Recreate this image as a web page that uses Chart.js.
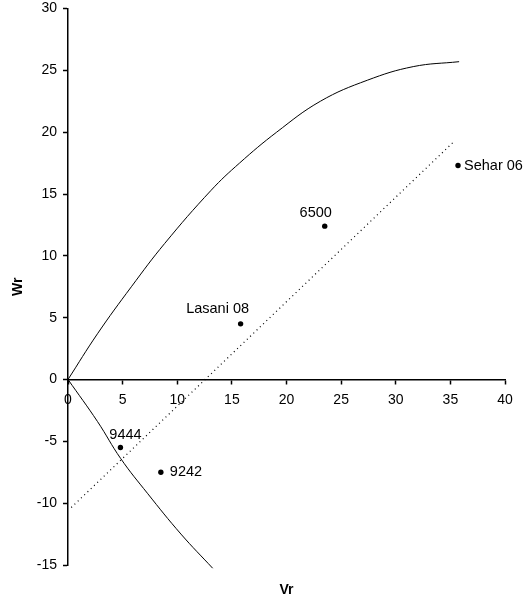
<!DOCTYPE html>
<html>
<head>
<meta charset="utf-8">
<script src="https://cdn.jsdelivr.net/npm/chart.js@4.4.0/dist/chart.umd.min.js"></script>
<style>
  html, body { margin: 0; padding: 0; background: #fff; }
  #wrap { width: 525px; height: 604px; }
</style>
</head>
<body>
<div id="wrap"><canvas id="myChart" width="525" height="604"></canvas></div>
<script>
// genotype points (Vr, Wr)
var genotypes = ["Sehar 06", "6500", "Lasani 08", "9444", "9242"];
var vr = [35.7, 23.5, 15.8, 4.8, 8.5];
var wr = [17.3, 12.4, 4.5, -5.5, -7.5];

// limiting parabola
var upperVr = [0, 2.7, 5.8, 8.85, 13.1, 15.7, 19.1, 23.1, 27.4, 31.6, 35.8];
var upperWr = [0, 3.7, 7.5, 11.0, 15.3, 17.5, 20.0, 22.5, 24.2, 25.3, 25.7];
var lowerVr = [0, 2.7, 4.83, 7.27, 10.34, 13.24];
var lowerWr = [0, -3.4, -6.4, -9.2, -12.5, -15.26];

// regression line ends
var regVr = [0.3, 35.4];
var regWr = [-10.35, 19.3];

var xTicks = [0, 5, 10, 15, 20, 25, 30, 35, 40];
var yTicks = [-15, -10, -5, 0, 5, 10, 15, 20, 25, 30];

function pts(xs, ys) {
	return xs.map(function (x, i) { return { x: x, y: ys[i] }; });
}

var FONT = '"Liberation Sans", Arial, sans-serif';
Chart.defaults.font.family = FONT;
Chart.defaults.font.size = 14;
Chart.defaults.color = "#000";

var pointLabels = {
	id: "pointLabels",
	afterDatasetsDraw: function (chart, args, opts) {
		var meta = chart.getDatasetMeta(3);
		var ctx = chart.ctx;
		ctx.save();
		ctx.font = "14.5px " + FONT;
		ctx.fillStyle = "#000";
		ctx.textBaseline = "middle";
		meta.data.forEach(function (pt, i) {
			var o = opts.offsets[i];
			ctx.textAlign = o[2];
			ctx.fillText(genotypes[i], pt.x + o[0], pt.y + o[1]);
		});
		ctx.restore();
	},
};

var ctx = document.getElementById("myChart").getContext("2d");
var myChart = new Chart(ctx, {
	type: "scatter",
	data: {
		datasets: [
			{
				data: pts(upperVr, upperWr),
				showLine: true,
				tension: 0.4,
				borderColor: "#000",
				borderWidth: 1,
				pointRadius: 0,
			},
			{
				data: pts(lowerVr, lowerWr),
				showLine: true,
				tension: 0.4,
				borderColor: "#000",
				borderWidth: 1,
				pointRadius: 0,
				clip: false,
			},
			{
				data: pts(regVr, regWr),
				showLine: true,
				borderColor: "#000",
				borderWidth: 1.2,
				borderDash: [1, 3.5],
				pointRadius: 0,
			},
			{
				data: pts(vr, wr),
				pointRadius: 2.7,
				backgroundColor: "#000",
				borderColor: "#000",
				borderWidth: 0,
			},
		],
	},
	options: {
		responsive: false,
		animation: false,
		layout: { padding: { top: 0, right: 20, left: 0, bottom: 0 } },
		plugins: {
			legend: { display: false },
			tooltip: { enabled: false },
			title: {
				display: true,
				text: "Vr",
				position: "bottom",
				fullSize: false,
				font: { size: 14, weight: "bold" },
				padding: { top: 16.5, bottom: 5.7 },
			},
			pointLabels: {
				offsets: [
					[6, 0, "left"],
					[-9, -13, "center"],
					[-23, -15, "center"],
					[5, -13, "center"],
					[9, 0, "left"],
				],
			},
		},
		scales: {
			x: {
				type: "linear",
				position: { y: 0 },
				min: 0,
				max: 40,
				afterBuildTicks: function (s) { s.ticks = xTicks.map(function (v) { return { value: v }; }); },
				ticks: { padding: 8, maxRotation: 0, autoSkip: false },
				grid: { drawOnChartArea: false, drawTicks: true, tickLength: 4, color: "#000", tickWidth: 1.5 },
				border: { display: true, color: "#000", width: 1.5 },
			},
			y: {
				type: "linear",
				position: "left",
				min: -15,
				max: 30,
				afterBuildTicks: function (s) { s.ticks = yTicks.map(function (v) { return { value: v }; }); },
				afterFit: function (s) { s.width = 68; s.paddingTop = 8.5; },
				ticks: { padding: 6, autoSkip: false },
				grid: { drawOnChartArea: false, drawTicks: true, tickLength: 5, color: "#000", tickWidth: 1.5 },
				border: { display: true, color: "#000", width: 1.5 },
				title: {
					display: true,
					text: "Wr",
					font: { size: 14, weight: "bold" },
					padding: { top: 9.5, bottom: 0 },
				},
			},
		},
	},
	plugins: [pointLabels],
});
</script>
</body>
</html>
